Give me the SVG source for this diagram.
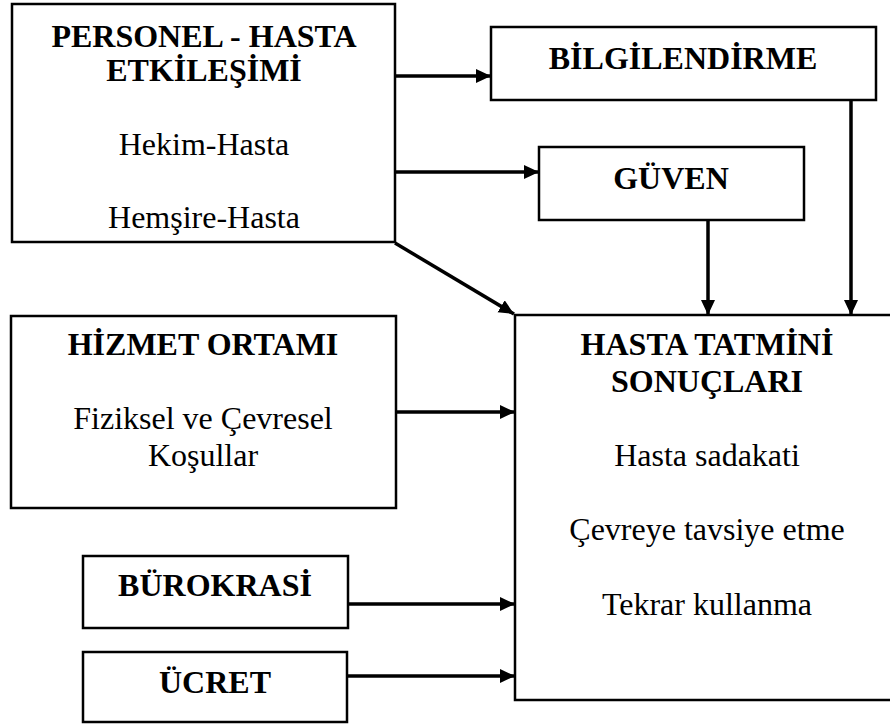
<svg xmlns="http://www.w3.org/2000/svg" width="890" height="726" viewBox="0 0 890 726">
<style>
.box{fill:#fff;stroke:#000;stroke-width:2.5}
.t{font-family:"Liberation Serif","Times New Roman",serif;font-size:32px;text-anchor:middle;fill:#000}
.b{font-weight:bold}
.c{stroke:#000;stroke-width:3.5;fill:none}
</style>
<defs>
<marker id="ah" markerUnits="userSpaceOnUse" markerWidth="16" markerHeight="15" refX="15" refY="7" orient="auto">
<path d="M0,0 L15,7 L0,14 z" fill="#000"/>
</marker>
</defs>
<rect width="890" height="726" fill="#fff"/>
<g id="personel">
<rect class="box" x="12" y="4" width="383" height="238"/>
<text class="t b" x="204" y="47">PERSONEL - HASTA</text>
<text class="t b" x="204" y="81">ETKİLEŞİMİ</text>
<text class="t" x="204" y="155">Hekim-Hasta</text>
<text class="t" x="204" y="228">Hemşire-Hasta</text>
</g>
<g id="bilgilendirme">
<rect class="box" x="491" y="27" width="385" height="73"/>
<text class="t b" x="683" y="69">BİLGİLENDİRME</text>
</g>
<g id="guven">
<rect class="box" x="539" y="147" width="265" height="73"/>
<text class="t b" x="671" y="189">GÜVEN</text>
</g>
<g id="hizmet">
<rect class="box" x="11" y="316" width="385" height="192"/>
<text class="t b" x="203" y="355">HİZMET ORTAMI</text>
<text class="t" x="203" y="429">Fiziksel ve Çevresel</text>
<text class="t" x="203" y="466">Koşullar</text>
</g>
<g id="burokrasi">
<rect class="box" x="83" y="556" width="265" height="72"/>
<text class="t b" x="215" y="596">BÜROKRASİ</text>
</g>
<g id="ucret">
<rect class="box" x="83" y="652" width="264" height="70"/>
<text class="t b" x="215" y="693">ÜCRET</text>
</g>
<g id="sonuclar">
<rect class="box" x="515" y="315" width="384" height="385"/>
<text class="t b" x="707" y="355">HASTA TATMİNİ</text>
<text class="t b" x="707" y="392">SONUÇLARI</text>
<text class="t" x="707" y="466">Hasta sadakati</text>
<text class="t" x="707" y="540">Çevreye tavsiye etme</text>
<text class="t" x="707" y="615">Tekrar kullanma</text>
</g>
<g id="connectors">
<line class="c" x1="395" y1="76" x2="491" y2="76" marker-end="url(#ah)"/>
<line class="c" x1="395" y1="172" x2="539" y2="172" marker-end="url(#ah)"/>
<line class="c" x1="395" y1="243" x2="514" y2="314" marker-end="url(#ah)"/>
<line class="c" x1="708" y1="220" x2="708" y2="315" marker-end="url(#ah)"/>
<line class="c" x1="851" y1="100" x2="851" y2="315" marker-end="url(#ah)"/>
<line class="c" x1="396" y1="412" x2="515" y2="412" marker-end="url(#ah)"/>
<line class="c" x1="348" y1="604" x2="515" y2="604" marker-end="url(#ah)"/>
<line class="c" x1="347" y1="676" x2="515" y2="676" marker-end="url(#ah)"/>
</g>
</svg>
